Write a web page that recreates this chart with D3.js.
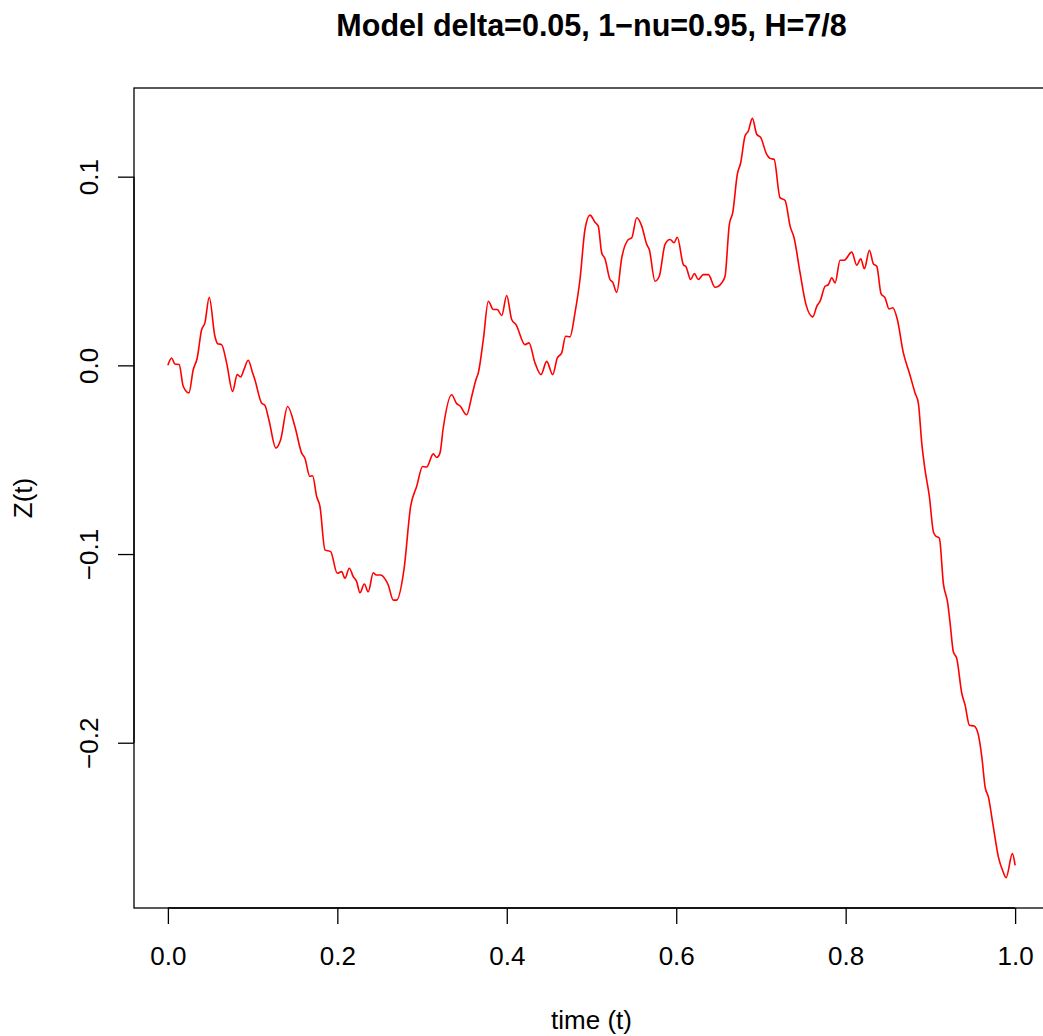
<!DOCTYPE html>
<html>
<head>
<meta charset="utf-8">
<script src="https://cdn.jsdelivr.net/npm/d3@7"></script>
<style>
  body { margin: 0; background: #fff; }
  text { font-family: "Liberation Sans", Arial, sans-serif; fill: #000; }
</style>
</head>
<body>
<svg id="chart" width="1043" height="1036"></svg>
<script>
const timeValues = [0,0.0044,0.0083,0.0133,0.0181,0.0248,0.0299,0.0346,0.0398,0.0437,0.0488,0.0555,0.0587,0.0634,0.0693,0.0764,0.0818,0.0858,0.0897,0.0948,
  0.1,0.1027,0.1106,0.1145,0.1192,0.1275,0.1331,0.1413,0.1499,0.1579,0.1617,0.1676,0.1708,0.1756,0.1795,0.1854,0.1921,0.1999,0.2051,0.209,
  0.2141,0.2188,0.2228,0.2267,0.2318,0.2365,0.2424,0.2456,0.2511,0.257,0.2601,0.266,0.27,0.2786,0.2865,0.2936,0.3007,0.3054,0.3132,0.3172,
  0.3211,0.325,0.3349,0.3409,0.3447,0.3527,0.3586,0.3636,0.3664,0.3723,0.3782,0.3841,0.3888,0.394,0.3999,0.4058,0.4109,0.4215,0.4262,0.4333,
  0.4404,0.4471,0.4542,0.4596,0.4648,0.4695,0.4746,0.4805,0.4864,0.4923,0.4982,0.5041,0.508,0.512,0.5159,0.5218,0.525,0.5298,0.5357,0.5435,
  0.5475,0.5534,0.5593,0.5652,0.5682,0.575,0.58,0.5868,0.5927,0.5974,0.6013,0.6084,0.6116,0.6171,0.6214,0.6261,0.632,0.6379,0.6458,0.6537,
  0.6576,0.6627,0.6667,0.6721,0.6761,0.6812,0.6851,0.6899,0.695,0.6998,0.7068,0.7107,0.7155,0.7225,0.7285,0.7344,0.7391,0.7462,0.7532,0.7612,
  0.7659,0.7698,0.7757,0.7796,0.7836,0.7875,0.7934,0.7981,0.8072,0.8131,0.8178,0.8221,0.828,0.8327,0.8367,0.8418,0.8465,0.8512,0.8556,0.861,
  0.8681,0.8752,0.8819,0.8858,0.8898,0.8937,0.8988,0.9035,0.9063,0.9106,0.9153,0.9205,0.9233,0.9271,0.9311,0.9371,0.941,0.946,0.9516,0.9567,
  0.9607,0.9646,0.9685,0.9737,0.9803,0.9855,0.9894,0.9968,1.0];
const zValues = [0,0.0039,0.0007,0.0004,-0.0111,-0.0146,-0.0023,0.0039,0.0189,0.0225,0.0361,0.0154,0.0115,0.011,0.0013,-0.0138,-0.0049,-0.0062,-0.0023,0.0027,
  -0.004,-0.0076,-0.02,-0.0212,-0.0288,-0.0438,-0.0394,-0.0218,-0.0324,-0.0465,-0.0492,-0.0589,-0.0585,-0.0695,-0.0748,-0.0978,-0.0987,-0.1102,-0.1093,-0.1128,
  -0.1075,-0.112,-0.1146,-0.1205,-0.1159,-0.12,-0.1099,-0.1111,-0.1111,-0.1137,-0.1164,-0.1244,-0.1244,-0.1084,-0.0748,-0.0642,-0.0536,-0.0539,-0.0469,-0.0488,
  -0.0465,-0.0332,-0.0156,-0.0203,-0.0214,-0.0262,-0.0165,-0.0076,-0.004,0.0136,0.034,0.0296,0.0296,0.0264,0.037,0.0243,0.0216,0.011,0.0119,0.0013,
  -0.0049,0.0021,-0.0049,0.0039,0.0066,0.0154,0.0151,0.0278,0.0455,0.072,0.0796,0.0759,0.0738,0.0597,0.0565,0.0455,0.0441,0.0387,0.057,0.0667,
  0.0676,0.0782,0.0738,0.0641,0.0614,0.0446,0.0472,0.0641,0.0667,0.065,0.0679,0.0534,0.0522,0.0455,0.0487,0.0455,0.0481,0.0481,0.0414,0.0437,
  0.0472,0.0747,0.0809,0.1012,0.1074,0.1215,0.1242,0.1309,0.1225,0.1207,0.1118,0.1097,0.1092,0.0889,0.0874,0.0738,0.0676,0.049,0.0322,0.0257,
  0.0313,0.034,0.0419,0.0428,0.0464,0.0437,0.0557,0.0557,0.06,0.0531,0.0565,0.0512,0.061,0.0538,0.0525,0.0379,0.0358,0.0299,0.0305,0.0243,
  0.0066,-0.004,-0.0146,-0.02,-0.0412,-0.0554,-0.0695,-0.0881,-0.0904,-0.0916,-0.1155,-0.1261,-0.1367,-0.1518,-0.1553,-0.1739,-0.1801,-0.1907,-0.1912,-0.196,
  -0.2075,-0.2235,-0.2288,-0.2429,-0.2606,-0.268,-0.2715,-0.2588,-0.265];
const xTicks = [0, 0.2, 0.4, 0.6, 0.8, 1.0];
const yTicks = [-0.2, -0.1, 0.0, 0.1];
const title = "Model delta=0.05, 1\u2212nu=0.95, H=7/8";
const xLabel = "time (t)", yLabel = "Z(t)";

const svg = d3.select("#chart");
const box = {left:134, right:1049, top:88, bottom:908};
const FONT = "Liberation Sans, Arial, sans-serif", FS = 26;
// R-style 4% padding around data range
const pad = (lo, hi) => { const d = (hi-lo)*0.04; return [lo-d, hi+d]; };
const x = d3.scaleLinear().domain(pad(0, 1)).range([box.left, box.right]);
const y = d3.scaleLinear().domain(pad(d3.min(zValues), d3.max(zValues))).range([box.bottom, box.top]);
const fmt = d3.format(".1f");
const label = v => fmt(v).replace("-", "\u2212");

// plot box
svg.append("rect").attr("x", box.left).attr("y", box.top).attr("width", box.right-box.left).attr("height", box.bottom-box.top)
  .attr("fill", "none").attr("stroke", "#000").attr("stroke-width", 1.3);

// axes
const xAxis = svg.append("g").attr("transform", `translate(0,${box.bottom})`)
  .call(d3.axisBottom(x).tickValues(xTicks).tickSize(16).tickFormat(label));
xAxis.select(".domain").attr("d", `M${x(0)},0H${x(1)}`).attr("stroke-width", 1.3);
xAxis.selectAll(".tick text").attr("y", 57).attr("dy", null).attr("font-size", FS).style("font-family", FONT);

const yAxis = svg.append("g").attr("transform", `translate(${box.left},0)`)
  .call(d3.axisLeft(y).tickValues(yTicks).tickSize(16).tickFormat(label));
yAxis.select(".domain").attr("d", `M0,${y(-0.2)}V${y(0.1)}`).attr("stroke-width", 1.3);
yAxis.selectAll(".tick text").attr("x", null).attr("dy", null).attr("text-anchor", "middle")
  .attr("transform", "translate(-36,0) rotate(-90)").attr("font-size", FS).style("font-family", FONT);
svg.selectAll(".tick line").attr("stroke-width", 1.3);

// line
const line = d3.line().x((d, i) => x(timeValues[i])).y(d => y(d)).curve(d3.curveMonotoneX);
svg.append("path").datum(zValues).attr("d", line).attr("fill", "none").attr("stroke", "#ff0000").attr("stroke-width", 1.6);

// titles
svg.append("text").attr("x", (box.left+box.right)/2).attr("y", 36).attr("text-anchor", "middle")
  .attr("font-size", 30.5).attr("font-weight", "bold").text(title);
svg.append("text").attr("x", (box.left+box.right)/2).attr("y", 1029).attr("text-anchor", "middle")
  .attr("font-size", FS).text(xLabel);
svg.append("text").attr("transform", `translate(32,${(box.top+box.bottom)/2}) rotate(-90)`).attr("text-anchor", "middle")
  .attr("font-size", FS).text(yLabel);
</script>
</body>
</html>
